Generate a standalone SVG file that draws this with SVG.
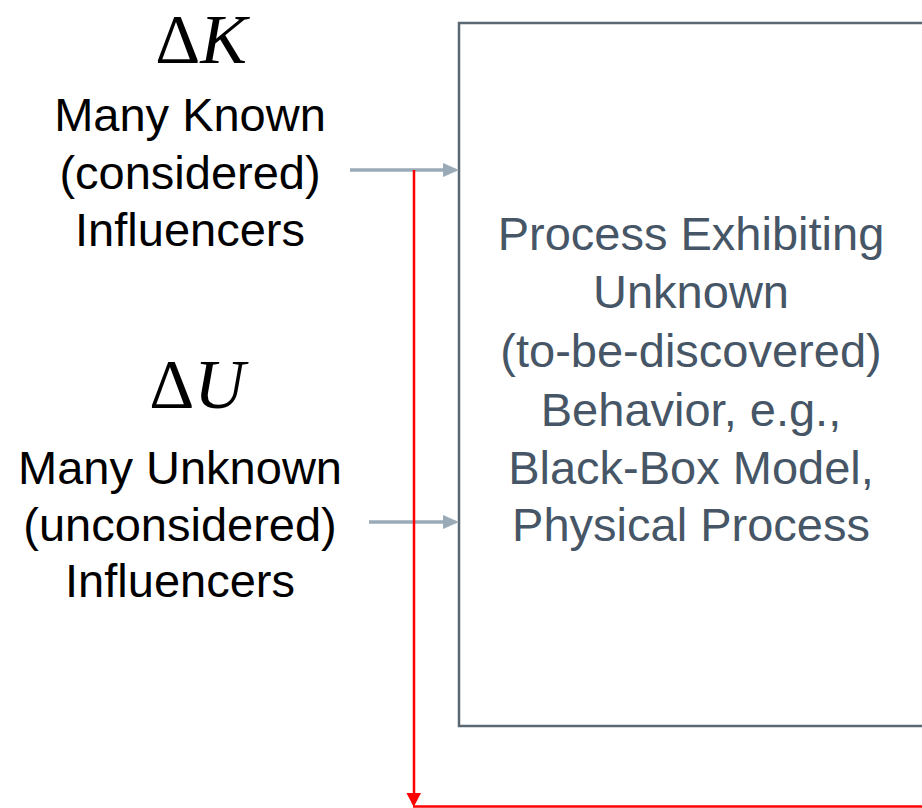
<svg xmlns="http://www.w3.org/2000/svg" width="922" height="808" viewBox="0 0 922 808">
  <style>
    .lbl { font-family: "Liberation Sans", Arial, sans-serif; font-size: 47px; fill: #000000; text-anchor: middle; }
    .box-txt { font-family: "Liberation Sans", Arial, sans-serif; font-size: 47px; fill: #465666; text-anchor: middle; }
    .sym { font-family: "Liberation Serif", "Times New Roman", serif; font-size: 70px; fill: #000000; text-anchor: middle; }
    .sym tspan.var { font-style: italic; }
    .in-line { stroke: #9aaab7; stroke-width: 3.5; fill: none; }
    .in-head { fill: #9aaab7; }
    .fb-line { stroke: #ff0000; stroke-width: 2.5; fill: none; }
    .fb-head { fill: #ff0000; }
  </style>

  <rect width="922" height="808" fill="#ffffff"/>

  <!-- Process block (extends past the right edge) -->
  <g id="process">
    <rect x="459" y="23" width="520" height="703" fill="#ffffff" stroke="#5a6874" stroke-width="2.5"/>
    <text class="box-txt" x="691" y="250">Process Exhibiting</text>
    <text class="box-txt" x="691" y="308">Unknown</text>
    <text class="box-txt" x="691" y="367">(to-be-discovered)</text>
    <text class="box-txt" x="691" y="426">Behavior, e.g.,</text>
    <text class="box-txt" x="691" y="484">Black-Box Model,</text>
    <text class="box-txt" x="691" y="541">Physical Process</text>
  </g>

  <!-- Known influencers -->
  <g id="known">
    <text class="sym" x="201" y="63">Δ<tspan class="var">K</tspan></text>
    <text class="lbl" x="190" y="131">Many Known</text>
    <text class="lbl" x="190" y="189">(considered)</text>
    <text class="lbl" x="190" y="246">Influencers</text>
  </g>

  <!-- Unknown influencers -->
  <g id="unknown">
    <text class="sym" x="197" y="408">Δ<tspan class="var">U</tspan></text>
    <text class="lbl" x="180" y="484">Many Unknown</text>
    <text class="lbl" x="180" y="541">(unconsidered)</text>
    <text class="lbl" x="180" y="597">Influencers</text>
  </g>

  <!-- Connectors -->
  <g id="connectors">
    <line class="in-line" x1="350" y1="170" x2="446" y2="170"/>
    <polygon class="in-head" points="443,163 459,170 443,177"/>
    <line class="in-line" x1="369" y1="522" x2="446" y2="522"/>
    <polygon class="in-head" points="443,515 459,522 443,529"/>

    <line class="fb-line" x1="414" y1="170" x2="414" y2="795"/>
    <polygon class="fb-head" points="406.5,793 421,793 413.7,807"/>
    <line class="fb-line" x1="413" y1="806.5" x2="922" y2="806.5"/>
  </g>
</svg>
